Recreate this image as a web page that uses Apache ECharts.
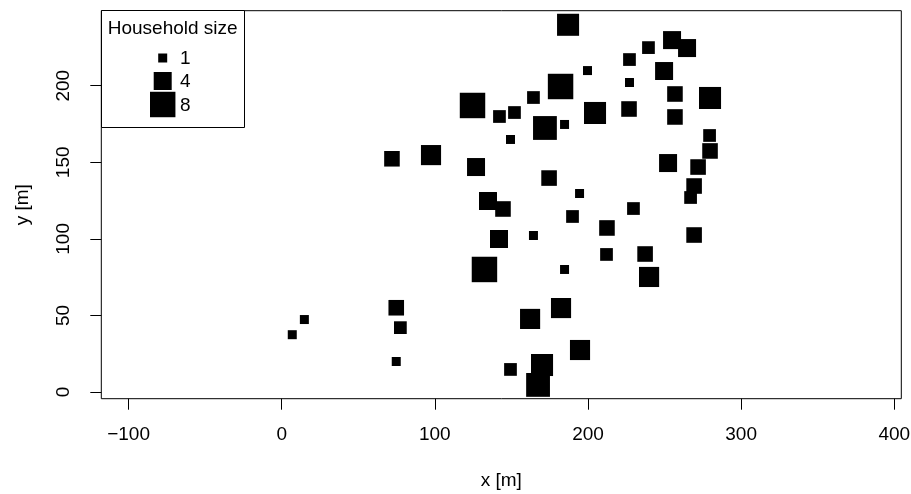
<!DOCTYPE html>
<html lang="en">
  <head>
    <meta charset="UTF-8">
    <title>Household size</title>
    <script src="https://cdn.jsdelivr.net/npm/echarts@6.0.0/dist/echarts.min.js"></script>
  </head>
  <body style="margin:0;background:#fff">
    <div id="main" style="width: 911px;height:494px;"></div>
    <script type="text/javascript">
      // household positions (metres) and household sizes
      const xs = [6.9, 14.8, 74.8, 77.5, 74.8, 72.0, 97.5,
        187.0, 254.9, 264.7, 239.5, 227.1, 249.7, 199.7, 227.1, 182.1, 256.8,
        279.7, 124.6, 164.4, 142.2, 152.0, 204.6, 226.8, 256.8, 171.9, 184.7,
        149.4, 279.4, 279.7, 126.9, 252.3, 271.9, 174.6, 269.3, 267.0, 194.5,
        134.7, 144.5, 229.7, 189.9, 212.4, 141.9, 164.4, 269.3,
        212.1, 237.3, 132.4, 184.7, 239.9, 182.4, 162.2, 194.8, 149.4, 170.0, 167.4];
      const ys = [37.4, 47.3, 55.0, 42.0, 19.9, 152.3, 154.7,
        239.8, 229.8, 224.6, 224.9, 217.1, 209.6, 209.9, 202.1, 199.5, 194.6,
        192.0, 187.1, 192.3, 179.9, 182.5, 182.2, 184.8, 179.6, 172.4, 174.7,
        164.9, 167.5, 157.4, 146.9, 149.5, 146.9, 139.7, 134.5, 127.0, 129.6,
        124.7, 119.5, 119.8, 114.6, 107.1, 99.9, 102.2, 102.5,
        89.8, 90.1, 80.0, 80.0, 75.1, 54.8, 47.7, 27.4, 14.7, 17.6, 4.6];
      const hh = [1, 1, 3, 2, 1, 3, 5,
        6, 4, 4, 2, 2, 4, 1, 1, 8, 3,
        6, 8, 2, 2, 2, 6, 3, 3, 7, 1,
        1, 2, 3, 4, 4, 3, 3, 3, 2, 1,
        4, 3, 2, 2, 3, 4, 1, 3,
        2, 3, 8, 1, 5, 5, 5, 5, 2, 6, 7];
      const xTicks = [-100, 0, 100, 200, 300, 400];
      const yTicks = [0, 50, 100, 150, 200];
      const legendSizes = [1, 4, 8];

      const font = 'Liberation Sans, Arial, sans-serif';
      const fs = 19;
      // square side grows with the square root of household size
      const side = n => 9 * Math.sqrt(n);
      const minus = v => String(v).replace('-', '\u2212');

      let myChart = echarts.init(document.getElementById('main'));

      const points = xs.map((x, i) => [x, ys[i], hh[i]]);

      // legend box, drawn by hand like R's legend()
      const legendGraphics = [
        { type: 'rect', shape: { x: 101.5, y: 10.5, width: 143, height: 117 },
          style: { fill: '#fff', stroke: '#000', lineWidth: 1 } },
        { type: 'text', x: 172.7, y: 28.5,
          style: { text: 'Household size', font: fs + 'px ' + font, fill: '#000',
                   align: 'center', verticalAlign: 'middle' } }
      ];
      const legendY = [58, 81, 104.5];
      legendSizes.forEach((n, i) => {
        const s = side(n);
        legendGraphics.push({ type: 'rect',
          shape: { x: 162.7 - s / 2, y: legendY[i] - s / 2, width: s, height: s },
          style: { fill: '#000' } });
        legendGraphics.push({ type: 'text', x: 180, y: legendY[i] + 1,
          style: { text: String(n), font: fs + 'px ' + font, fill: '#000',
                   align: 'left', verticalAlign: 'middle' } });
      });

      let options = {
        animation: false,
        backgroundColor: '#fff',
        textStyle: { fontFamily: font },
        grid: { left: 101.3, right: 9.7, top: 10.7, bottom: 95.3,
                outerBoundsMode: 'none', containLabel: false,
                show: true, borderColor: '#000', borderWidth: 1 },
        xAxis: {
          type: 'value', min: -117.8, max: 404.6,
          name: 'x [m]', nameLocation: 'middle', nameGap: 73,
          nameTextStyle: { fontSize: fs, color: '#000' },
          axisLine: { show: false, onZero: false },
          splitLine: { show: false },
          axisTick: { show: true, length: 11, customValues: xTicks,
                      lineStyle: { color: '#000' } },
          axisLabel: { customValues: xTicks, fontSize: fs, color: '#000',
                       margin: 27, formatter: minus }
        },
        yAxis: {
          type: 'value', min: -4.4, max: 249.0,
          name: 'y [m]', nameLocation: 'middle', nameGap: 69,
          nameTextStyle: { fontSize: fs, color: '#000' },
          axisLine: { show: false, onZero: false },
          splitLine: { show: false },
          axisTick: { show: true, length: 11, customValues: yTicks,
                      lineStyle: { color: '#000' } },
          axisLabel: { customValues: yTicks, fontSize: fs, color: '#000',
                       margin: 28, rotate: 90 }
        },
        series: [{
          type: 'scatter',
          symbol: 'rect',
          symbolSize: val => side(val[2]),
          itemStyle: { color: '#000', opacity: 1 },
          data: points
        }],
        graphic: legendGraphics
      };

      myChart.setOption(options);
    </script>
  </body>
</html>
